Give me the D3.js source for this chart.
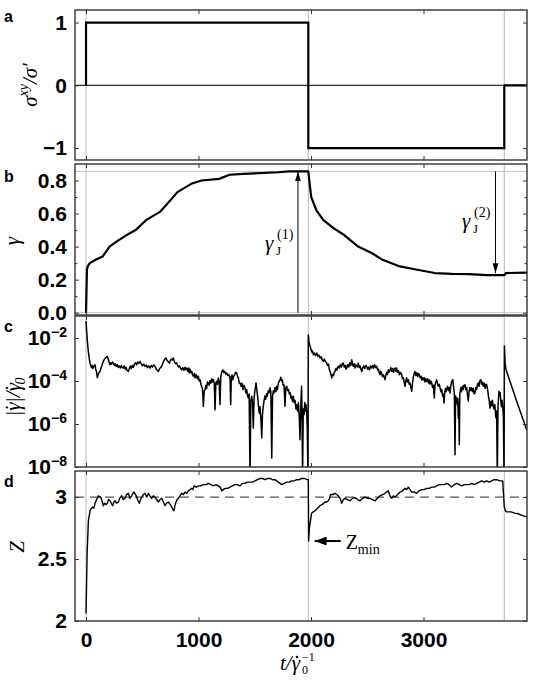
<!DOCTYPE html>
<html>
<head>
<meta charset="utf-8">
<script src="https://cdn.jsdelivr.net/npm/d3@7"></script>
<style>
  body { margin: 0; background: #fff; }
  .math { font-family: "Liberation Serif", "Times New Roman", serif; font-style: italic; }
  .roman { font-family: "Liberation Serif", "Times New Roman", serif; }
</style>
</head>
<body>
<div id="chart"></div>
<script>
// ---- data ----
var switchTimes = [0, 1976, 3718];          // stress reversals
var stressLevels = [1, -1, 0];              // sigma_xy / sigma' after each switch
var tEnd = 3920;

// [t, gamma]
var gammaData = [[0,0],[8,0.26],[15,0.28],[33,0.30],[85,0.32],[147,0.34],[209,0.40],[271,0.43],[348,0.465],[441,0.50],
  [533,0.56],[657,0.61],[750,0.68],[812,0.73],[935,0.78],[1028,0.80],[1183,0.81],[1276,0.835],[1399,0.84],[1708,0.85],
  [1801,0.855],[1976,0.855],[1987,0.785],[2002,0.70],[2048,0.62],[2110,0.56],[2203,0.51],[2295,0.47],[2419,0.40],[2543,0.36],
  [2636,0.32],[2790,0.28],[2944,0.26],[3099,0.24],[3253,0.235],[3408,0.233],[3563,0.227],[3718,0.227],[3733,0.24],[3920,0.243]];

// [t, log10 |gamma dot| / gamma dot_0]  (-8.5 = spike running off the bottom)
var rateData = [[0,-1.22],[6,-1.7],[12,-2.15],[18,-2.5],[24,-2.78],[30,-3.0],[36,-3.2],[41,-3.25],[48,-3.38],[55,-3.28],
  [60,-3.42],[65,-3.37],[72,-3.30],[80,-3.25],[86,-3.45],[92,-3.55],[101,-3.84],[108,-3.70],[115,-3.62],[124,-3.56],
  [132,-3.42],[140,-3.30],[147,-3.18],[154,-3.09],[162,-3.0],[170,-2.95],[180,-2.90],[190,-2.86],[197,-2.98],[205,-3.12],
  [213,-3.25],[220,-3.15],[228,-3.22],[236,-3.12],[243,-3.17],[252,-3.28],[260,-3.20],[268,-3.32],[278,-3.24],[287,-3.37],
  [296,-3.30],[305,-3.40],[314,-3.28],[323,-3.38],[332,-3.40],[340,-3.30],[348,-3.45],[356,-3.36],[365,-3.50],[376,-3.56],
  [385,-3.42],[393,-3.30],[402,-3.42],[411,-3.28],[421,-3.37],[430,-3.22],[440,-3.15],[450,-3.25],[460,-3.12],[470,-3.18],
  [480,-3.09],[490,-3.20],[500,-3.30],[512,-3.22],[524,-3.32],[535,-3.26],[546,-3.38],[557,-3.30],[569,-3.40],[580,-3.28],
  [590,-3.36],[601,-3.25],[613,-3.32],[622,-3.42],[632,-3.50],[643,-3.56],[652,-3.45],[662,-3.38],[673,-3.32],[683,-3.18],
  [693,-3.05],[702,-2.98],[711,-2.93],[720,-3.05],[730,-3.10],[741,-3.17],[750,-3.05],[760,-2.98],[768,-3.02],[776,-2.93],
  [786,-3.10],[796,-3.20],[805,-3.15],[812,-3.25],[822,-3.35],[832,-3.30],[841,-3.42],[850,-3.48],[860,-3.38],[870,-3.50],
  [880,-3.36],[888,-3.48],[895,-3.40],[905,-3.55],[912,-3.40],[918,-3.62],[924,-3.45],[932,-3.62],[940,-3.55],[947,-3.72],
  [954,-3.78],[962,-3.65],[970,-3.85],[980,-3.70],[990,-3.90],[998,-3.78],[1006,-4.00],[1014,-3.95],[1021,-4.15],[1028,-4.25],
  [1036,-4.40],[1043,-5.18],[1050,-4.50],[1058,-4.40],[1065,-4.20],[1072,-4.35],[1080,-4.05],[1087,-4.09],[1095,-4.20],[1102,-3.98],
  [1110,-4.10],[1118,-3.90],[1125,-4.05],[1132,-3.94],[1140,-4.10],[1147,-5.34],[1154,-4.10],[1161,-4.01],[1168,-4.15],[1176,-3.86],
  [1183,-4.00],[1191,-5.10],[1198,-3.80],[1205,-3.60],[1215,-3.48],[1224,-3.60],[1232,-3.55],[1241,-3.68],[1251,-3.63],[1260,-3.75],
  [1270,-3.70],[1280,-3.86],[1286,-5.10],[1292,-3.80],[1298,-3.72],[1304,-3.94],[1312,-3.80],[1320,-3.72],[1330,-3.60],[1339,-3.63],
  [1348,-3.80],[1356,-3.90],[1362,-4.10],[1369,-4.09],[1378,-4.25],[1386,-4.10],[1395,-4.40],[1404,-4.20],[1413,-4.32],[1421,-4.55],
  [1428,-4.40],[1436,-4.70],[1443,-4.79],[1450,-4.60],[1458,-8.5],[1465,-4.90],[1473,-4.71],[1480,-5.00],[1487,-6.19],[1494,-4.80],
  [1500,-4.50],[1506,-4.30],[1511,-4.09],[1518,-4.40],[1525,-4.70],[1532,-5.10],[1540,-5.50],[1547,-5.20],[1555,-5.80],[1562,-6.65],
  [1568,-5.60],[1575,-5.20],[1582,-4.94],[1590,-4.70],[1597,-4.85],[1605,-4.60],[1612,-4.71],[1620,-4.45],[1628,-4.55],[1636,-4.32],
  [1643,-4.50],[1651,-7.58],[1658,-4.70],[1665,-4.45],[1671,-4.56],[1680,-4.30],[1688,-4.50],[1695,-4.25],[1701,-4.40],[1710,-4.10],
  [1718,-4.00],[1725,-3.95],[1731,-3.83],[1738,-4.00],[1745,-3.95],[1752,-4.20],[1760,-4.18],[1769,-5.18],[1776,-4.30],[1784,-4.25],
  [1792,-4.45],[1800,-4.40],[1808,-4.60],[1815,-4.55],[1822,-4.80],[1828,-4.71],[1835,-4.95],[1843,-4.71],[1850,-5.00],[1858,-4.90],
  [1866,-5.30],[1873,-5.10],[1880,-5.40],[1888,-5.00],[1896,-5.72],[1902,-6.73],[1909,-5.20],[1916,-4.25],[1920,-5.40],[1925,-8.5],
  [1931,-5.30],[1938,-5.57],[1945,-5.00],[1950,-5.40],[1956,-5.10],[1962,-5.50],[1967,-6.19],[1973,-8.5],[1976,-1.86],[1982,-2.20],
  [1990,-2.35],[1997,-2.47],[2005,-2.65],[2013,-2.60],[2021,-2.78],[2030,-2.70],[2040,-2.82],[2051,-2.70],[2060,-2.85],[2070,-2.80],
  [2080,-2.93],[2090,-2.88],[2100,-3.02],[2109,-3.09],[2118,-2.98],[2128,-3.10],[2139,-3.17],[2148,-3.28],[2156,-3.22],[2163,-3.48],
  [2170,-3.55],[2177,-3.70],[2184,-3.86],[2192,-3.70],[2200,-3.75],[2207,-3.60],[2213,-3.56],[2222,-3.42],[2230,-3.50],[2237,-3.35],
  [2243,-3.32],[2252,-3.40],[2260,-3.25],[2270,-3.35],[2278,-3.20],[2287,-3.17],[2296,-3.35],[2305,-3.28],[2310,-3.45],[2317,-3.40],
  [2326,-3.25],[2335,-3.35],[2345,-3.15],[2353,-3.28],[2362,-3.01],[2370,-3.25],[2377,-3.32],[2384,-3.20],[2391,-3.40],[2400,-3.25],
  [2410,-3.35],[2420,-3.17],[2428,-3.38],[2436,-3.30],[2444,-3.45],[2451,-3.56],[2460,-3.38],[2470,-3.30],[2478,-3.42],[2487,-3.28],
  [2495,-3.32],[2504,-3.45],[2512,-3.35],[2520,-3.48],[2530,-3.30],[2540,-3.40],[2548,-3.28],[2556,-3.40],[2565,-3.25],[2575,-3.38],
  [2584,-3.32],[2592,-3.50],[2600,-3.45],[2606,-3.62],[2613,-3.71],[2620,-3.55],[2628,-3.65],[2636,-3.80],[2645,-3.72],[2652,-3.85],
  [2658,-3.94],[2665,-3.75],[2673,-3.60],[2680,-3.70],[2688,-3.48],[2695,-3.60],[2702,-3.50],[2710,-3.38],[2718,-3.55],[2726,-3.42],
  [2734,-3.60],[2740,-3.45],[2747,-3.40],[2755,-3.55],[2762,-3.40],[2770,-3.60],[2778,-3.52],[2785,-3.71],[2795,-3.60],[2806,-3.71],
  [2814,-3.90],[2821,-3.85],[2828,-4.05],[2836,-4.25],[2843,-4.00],[2850,-3.85],[2858,-4.05],[2865,-3.94],[2872,-4.15],[2880,-4.10],
  [2888,-4.30],[2895,-4.48],[2902,-4.10],[2910,-3.80],[2917,-3.65],[2924,-3.56],[2932,-3.75],[2940,-3.62],[2948,-3.80],[2955,-3.65],
  [2963,-3.71],[2970,-3.85],[2978,-3.78],[2985,-3.95],[2992,-3.85],[2998,-3.94],[3006,-3.85],[3013,-4.05],[3020,-3.90],[3028,-4.01],
  [3036,-3.90],[3044,-4.10],[3050,-3.95],[3058,-4.15],[3065,-4.00],[3073,-4.09],[3080,-4.30],[3088,-4.20],[3096,-4.79],[3102,-4.20],
  [3110,-4.05],[3117,-3.94],[3124,-4.10],[3132,-4.25],[3140,-4.15],[3147,-4.32],[3155,-4.50],[3162,-4.40],[3170,-4.70],[3176,-4.60],
  [3182,-5.02],[3188,-4.60],[3195,-4.35],[3200,-4.50],[3206,-4.40],[3214,-4.25],[3222,-4.45],[3229,-4.30],[3236,-4.56],[3243,-4.20],
  [3250,-4.05],[3255,-3.98],[3260,-3.94],[3265,-4.20],[3270,-4.40],[3274,-4.56],[3280,-7.43],[3285,-4.70],[3290,-4.95],[3295,-4.79],
  [3300,-5.10],[3305,-4.80],[3309,-5.72],[3314,-5.00],[3318,-6.96],[3323,-4.60],[3331,-4.32],[3338,-4.50],[3345,-4.25],[3352,-4.40],
  [3360,-4.20],[3369,-4.18],[3376,-4.40],[3383,-4.30],[3390,-4.60],[3398,-4.94],[3405,-4.50],[3413,-4.30],[3420,-4.45],[3429,-4.32],
  [3436,-4.50],[3443,-4.35],[3450,-4.60],[3458,-4.56],[3465,-4.30],[3472,-4.40],[3480,-4.15],[3487,-4.09],[3494,-4.25],[3500,-4.00],
  [3509,-3.94],[3516,-4.15],[3524,-4.05],[3532,-4.25],[3540,-4.10],[3548,-4.35],[3555,-4.15],[3562,-4.18],[3570,-4.40],[3577,-4.70],
  [3584,-4.90],[3591,-5.26],[3598,-4.95],[3605,-5.15],[3612,-4.90],[3620,-5.18],[3627,-5.30],[3634,-5.10],[3640,-5.50],[3644,-5.72],
  [3650,-5.40],[3656,-8.5],[3662,-5.20],[3667,-4.80],[3671,-4.48],[3677,-4.70],[3682,-4.55],[3687,-4.94],[3693,-5.20],[3699,-4.90],
  [3705,-5.26],[3710,-5.60],[3716,-8.5],[3719,-2.37],[3726,-3.20],[3733,-3.45],[3740,-3.57],[3769,-4.03],[3829,-4.96],[3918,-6.28]];

// [t, Z]
var zData = [[0,2.06],[10,2.55],[21,2.81],[36,2.89],[48,2.91],[59,2.92],[70,2.91],[80,2.95],[95,2.98],[110,3.01],
  [120,3.00],[130,3.00],[142,2.97],[154,2.93],[165,2.95],[178,2.94],[190,2.95],[200,2.98],[213,2.97],[225,2.95],
  [237,2.93],[248,2.96],[258,2.97],[272,2.95],[287,2.96],[300,2.99],[317,3.01],[330,2.98],[347,2.99],[360,3.02],
  [376,3.03],[390,2.99],[406,3.01],[417,3.03],[427,3.04],[440,3.02],[451,3.00],[462,2.97],[474,2.95],[485,2.98],
  [495,3.00],[510,3.02],[524,3.03],[540,3.00],[554,3.03],[568,3.01],[584,2.99],[598,3.01],[613,3.00],[628,2.98],
  [643,2.96],[658,2.98],[673,2.99],[688,2.96],[702,2.93],[716,2.95],[732,2.96],[748,2.94],[762,2.92],[772,2.90],
  [782,2.89],[790,2.93],[800,2.96],[810,2.98],[821,2.99],[835,3.01],[850,3.03],[865,3.02],[880,3.04],[895,3.03],
  [910,3.05],[925,3.06],[939,3.07],[950,3.06],[960,3.09],[980,3.08],[999,3.09],[1020,3.09],[1043,3.10],[1065,3.10],
  [1087,3.11],[1110,3.10],[1132,3.09],[1155,3.10],[1176,3.09],[1192,3.08],[1206,3.05],[1220,3.06],[1236,3.07],[1258,3.07],
  [1280,3.08],[1302,3.09],[1324,3.10],[1346,3.10],[1369,3.09],[1390,3.11],[1413,3.11],[1436,3.12],[1458,3.12],[1480,3.12],
  [1502,3.13],[1525,3.14],[1547,3.15],[1570,3.15],[1591,3.14],[1614,3.15],[1636,3.15],[1658,3.14],[1680,3.14],[1695,3.13],
  [1709,3.12],[1725,3.11],[1740,3.10],[1762,3.11],[1784,3.12],[1806,3.12],[1828,3.13],[1850,3.13],[1873,3.14],[1895,3.14],
  [1917,3.15],[1942,3.15],[1967,3.14],[1976,3.14],[1979,2.645],[1985,2.74],[1991,2.785],[2006,2.87],[2020,2.88],[2036,2.89],
  [2058,2.91],[2080,2.93],[2102,2.94],[2124,2.96],[2140,2.96],[2154,2.97],[2165,2.99],[2175,3.02],[2195,3.02],[2213,3.03],
  [2228,3.02],[2243,3.01],[2258,2.99],[2273,2.95],[2288,2.98],[2302,2.99],[2325,2.98],[2347,2.97],[2370,2.99],[2391,2.995],
  [2414,2.98],[2436,2.97],[2458,2.99],[2480,3.00],[2502,2.99],[2524,2.99],[2547,2.98],[2569,2.97],[2591,2.99],[2613,3.01],
  [2636,3.02],[2658,3.03],[2672,3.04],[2687,3.05],[2702,3.01],[2717,2.99],[2732,3.01],[2747,3.00],[2770,3.02],[2791,3.04],
  [2814,3.05],[2836,3.07],[2850,3.06],[2865,3.08],[2880,3.06],[2895,3.04],[2918,3.04],[2940,3.03],[2962,3.05],[2984,3.06],
  [3006,3.06],[3028,3.07],[3050,3.07],[3073,3.08],[3095,3.08],[3117,3.09],[3140,3.10],[3162,3.10],[3184,3.10],[3206,3.11],
  [3228,3.10],[3251,3.08],[3273,3.10],[3295,3.11],[3318,3.10],[3340,3.09],[3362,3.10],[3384,3.10],[3406,3.10],[3429,3.11],
  [3451,3.10],[3473,3.11],[3495,3.12],[3517,3.13],[3540,3.12],[3562,3.13],[3584,3.12],[3606,3.13],[3628,3.14],[3651,3.14],
  [3678,3.13],[3704,3.13],[3718,2.92],[3728,2.89],[3740,2.88],[3760,2.88],[3778,2.88],[3810,2.87],[3840,2.865],[3880,2.85],
  [3918,2.84]];

var gammaJ = [0.855, 0.227];     // jamming strains marked by arrows
var gammaJTimes = [1884, 3640];
var zMin = [1979, 2.645];
var zRef = 3;

var xTicks = [0, 1000, 2000, 3000];
var aTicks = [-1, 0, 1];
var bTicks = [0, 0.2, 0.4, 0.6, 0.8];
var bMinor = [0.1, 0.3, 0.5, 0.7];
var cTicks = [-8, -6, -4, -2];
var dTicks = [2, 2.5, 3];

// ---- layout ----
var W = 546, H = 684;
var left = 75, right = 527;
var tickFont = "Liberation Sans, Arial, Helvetica, sans-serif";

var svg = d3.select("#chart").append("svg")
    .attr("width", W).attr("height", H);

var defs = svg.append("defs");
defs.append("marker").attr("id", "head")
    .attr("markerUnits", "userSpaceOnUse")
    .attr("viewBox", "0 0 10 6").attr("refX", 10).attr("refY", 3)
    .attr("markerWidth", 10).attr("markerHeight", 6).attr("orient", "auto")
  .append("path").attr("d", "M0,0L10,3L0,6z").attr("fill", "#000");
defs.append("marker").attr("id", "headBig")
    .attr("markerUnits", "userSpaceOnUse")
    .attr("viewBox", "0 0 12 9").attr("refX", 12).attr("refY", 4.5)
    .attr("markerWidth", 12).attr("markerHeight", 9).attr("orient", "auto")
  .append("path").attr("d", "M0,0L12,4.5L0,9z").attr("fill", "#000");

var x = d3.scaleLinear().domain([-98, tEnd]).range([left, right]);

var yA = d3.scaleLinear().domain([-1.19, 1.2]).range([160, 10]);
var yB = d3.scaleLinear().domain([-0.014, 0.9]).range([315, 164]);
var yC = d3.scaleLog().domain([1e-8, Math.pow(10, -0.98)]).range([467, 316]);
var yD = d3.scaleLinear().domain([2, 3.21]).range([621, 471]);

function setup(id, y) {
  var r = y.range();
  var top = r[1], bottom = r[0];
  defs.append("clipPath").attr("id", "clip" + id)
    .append("rect").attr("x", left).attr("y", top)
    .attr("width", right - left).attr("height", bottom - top);
  var g = svg.append("g").attr("clip-path", "url(#clip" + id + ")");
  g.selectAll(".vl").data(switchTimes).enter().append("line")
    .attr("x1", d => x(d)).attr("x2", d => x(d))
    .attr("y1", top).attr("y2", bottom)
    .attr("stroke", "#b8b8b8").attr("stroke-width", 1);
  return g;
}

function styleAxis(a) {
  a.attr("color", "#333").attr("font-size", 21).attr("font-family", tickFont).attr("font-weight", "bold");
  a.select(".domain").remove();
  a.selectAll("text").attr("fill", "#000");
}

function frame(y, ticks, fmt, minor, showX) {
  var r = y.range();
  var top = r[1], bottom = r[0];

  var la = svg.append("g").attr("transform", "translate(" + left + ",0)")
    .call(d3.axisLeft(y).tickValues(ticks).tickSize(-4).tickPadding(8).tickFormat(fmt || ""));
  var ra = svg.append("g").attr("transform", "translate(" + right + ",0)")
    .call(d3.axisRight(y).tickValues(ticks).tickSize(-4).tickFormat(""));
  styleAxis(la); styleAxis(ra);
  if (minor) {
    [[left, d3.axisLeft], [right, d3.axisRight]].forEach(p => {
      svg.append("g").attr("transform", "translate(" + p[0] + ",0)")
        .call(p[1](y).tickValues(minor).tickSize(-2.5).tickFormat(""))
        .attr("color", "#333").select(".domain").remove();
    });
  }
  var ba = svg.append("g").attr("transform", "translate(0," + bottom + ")")
    .call(d3.axisBottom(x).tickValues(xTicks).tickSize(-4).tickPadding(11)
      .tickFormat(showX ? d3.format("d") : ""));
  var ta = svg.append("g").attr("transform", "translate(0," + top + ")")
    .call(d3.axisTop(x).tickValues(xTicks).tickSize(-4).tickFormat(""));
  styleAxis(ba); styleAxis(ta);

  svg.append("rect").attr("x", left).attr("y", top)
    .attr("width", right - left).attr("height", bottom - top)
    .attr("fill", "none").attr("stroke", "#333").attr("stroke-width", 1.4);
}

function panelLetter(txt, yPos) {
  svg.append("text").attr("x", 4).attr("y", yPos).text(txt)
    .attr("font-family", tickFont).attr("font-weight", "bold").attr("font-size", 16);
}

// gamma with a dot on top (gamma dot), inside a rotated title
function gdot(t, size) {
  t.append("tspan").text("γ");
  t.append("tspan").attr("font-style", "normal").attr("dx", -0.4 * size).text("˙");
}

// ---- panel a : applied stress ----
var gA = setup("a", yA);
gA.append("line").attr("x1", left).attr("x2", right)
  .attr("y1", yA(0)).attr("y2", yA(0)).attr("stroke", "#000").attr("stroke-width", 1);
var stressPts = [[switchTimes[0], 0]];
switchTimes.forEach((t, i) => stressPts.push([t, stressLevels[i]]));
stressPts.push([tEnd, stressLevels[stressLevels.length - 1]]);
gA.append("path").datum(stressPts)
  .attr("d", d3.line().x(d => x(d[0])).y(d => yA(d[1])).curve(d3.curveStepAfter))
  .attr("fill", "none").attr("stroke", "#000").attr("stroke-width", 2.2);
frame(yA, aTicks, d3.format("d"), null, false);
panelLetter("a", 22);

// ---- panel b : strain ----
var gB = setup("b", yB);
[0, gammaJ[0]].forEach(v => {
  gB.append("line").attr("x1", left).attr("x2", right)
    .attr("y1", yB(v)).attr("y2", yB(v)).attr("stroke", "#c4c4c4").attr("stroke-width", 1);
});
gB.append("path").datum(gammaData)
  .attr("d", d3.line().x(d => x(d[0])).y(d => yB(d[1])))
  .attr("fill", "none").attr("stroke", "#000").attr("stroke-width", 2.2).attr("stroke-linejoin", "round");
gB.append("line").attr("x1", x(gammaJTimes[0])).attr("x2", x(gammaJTimes[0]))
  .attr("y1", yB(0)).attr("y2", yB(gammaJ[0]))
  .attr("stroke", "#000").attr("stroke-width", 1).attr("marker-end", "url(#head)");
gB.append("line").attr("x1", x(gammaJTimes[1])).attr("x2", x(gammaJTimes[1]))
  .attr("y1", yB(gammaJ[0])).attr("y2", yB(gammaJ[1]) - 2)
  .attr("stroke", "#000").attr("stroke-width", 1).attr("marker-end", "url(#head)");
frame(yB, bTicks, d3.format(".1f"), bMinor, false);
panelLetter("b", 182);

function jLabel(xp, yp, n) {
  svg.append("text").attr("class", "math").attr("x", xp).attr("y", yp).attr("font-size", 21).text("γ");
  svg.append("text").attr("class", "roman").attr("x", xp + 11).attr("y", yp + 5).attr("font-size", 13).text("J");
  svg.append("text").attr("class", "roman").attr("x", xp + 12).attr("y", yp - 11).attr("font-size", 14).text("(" + n + ")");
}
jLabel(265, 250, 1);
jLabel(462, 228, 2);

// ---- panel c : strain rate ----
var gC = setup("c", yC);
gC.append("path").datum(rateData)
  .attr("d", d3.line().x(d => x(d[0])).y(d => yC(Math.pow(10, d[1]))))
  .attr("fill", "none").attr("stroke", "#000").attr("stroke-width", 1.5).attr("stroke-linejoin", "round");
frame(yC, cTicks.map(e => Math.pow(10, e)), null, null, false);
cTicks.forEach(e => {
  var t = svg.append("text").attr("x", left - 8).attr("y", yC(Math.pow(10, e)) + 7)
    .attr("text-anchor", "end").attr("font-family", tickFont).attr("font-weight", "bold").attr("font-size", 21);
  t.append("tspan").text("10");
  t.append("tspan").attr("font-size", 14).attr("dy", -8).text("−" + Math.abs(e));
});
panelLetter("c", 332);

// ---- panel d : coordination number ----
var gD = setup("d", yD);
gD.append("line").attr("x1", left).attr("x2", right)
  .attr("y1", yD(zRef)).attr("y2", yD(zRef))
  .attr("stroke", "#555").attr("stroke-width", 1.2).attr("stroke-dasharray", "9,6");
gD.append("path").datum(zData)
  .attr("d", d3.line().x(d => x(d[0])).y(d => yD(d[1])))
  .attr("fill", "none").attr("stroke", "#000").attr("stroke-width", 1.4).attr("stroke-linejoin", "round");
gD.append("line").attr("x1", x(zMin[0]) + 32).attr("x2", x(zMin[0]) + 6)
  .attr("y1", yD(zMin[1])).attr("y2", yD(zMin[1]))
  .attr("stroke", "#000").attr("stroke-width", 2).attr("marker-end", "url(#headBig)");
frame(yD, dTicks, d3.format(""), null, true);
panelLetter("d", 487);

var zl = svg.append("text").attr("class", "roman").attr("x", x(zMin[0]) + 37).attr("y", yD(zMin[1]) + 8).attr("font-size", 20);
zl.append("tspan").text("Z");
zl.append("tspan").attr("font-size", 14).attr("dy", 5).text("min");

// ---- axis titles ----
var ta = svg.append("text").attr("class", "math").attr("font-size", 21)
  .attr("text-anchor", "middle").attr("transform", "translate(37,85) rotate(-90)");
ta.append("tspan").text("σ");
ta.append("tspan").attr("font-size", 14).attr("dy", -9).text("xy");
ta.append("tspan").attr("dy", 9).text("/σ′");

svg.append("text").attr("class", "math").attr("font-size", 21)
  .attr("text-anchor", "middle").attr("transform", "translate(19,241) rotate(-90)").text("γ");

var tc = svg.append("text").attr("class", "math").attr("font-size", 21)
  .attr("text-anchor", "middle").attr("transform", "translate(20,397) rotate(-90)");
tc.append("tspan").text("|");
gdot(tc, 21);
tc.append("tspan").attr("dx", 1).text("|/");
gdot(tc, 21);
tc.append("tspan").attr("font-size", 14).attr("dy", 5).text("0");

svg.append("text").attr("class", "math").attr("font-size", 21)
  .attr("text-anchor", "middle").attr("transform", "translate(24,547) rotate(-90)").text("Z");

// x title: t / gamma-dot_0^-1, pieces placed side by side
var xtBase = 670, xtLeft = 280;
svg.append("text").attr("class", "math").attr("font-size", 21)
  .attr("x", xtLeft).attr("y", xtBase).text("t/γ");
svg.append("circle").attr("cx", xtLeft + 17).attr("cy", xtBase - 13).attr("r", 1.3).attr("fill", "#000");
svg.append("text").attr("class", "roman").attr("font-size", 12)
  .attr("x", xtLeft + 22).attr("y", xtBase + 4).text("0");
svg.append("text").attr("class", "roman").attr("font-size", 12)
  .attr("x", xtLeft + 22).attr("y", xtBase - 9).text("−1");
</script>
</body>
</html>
